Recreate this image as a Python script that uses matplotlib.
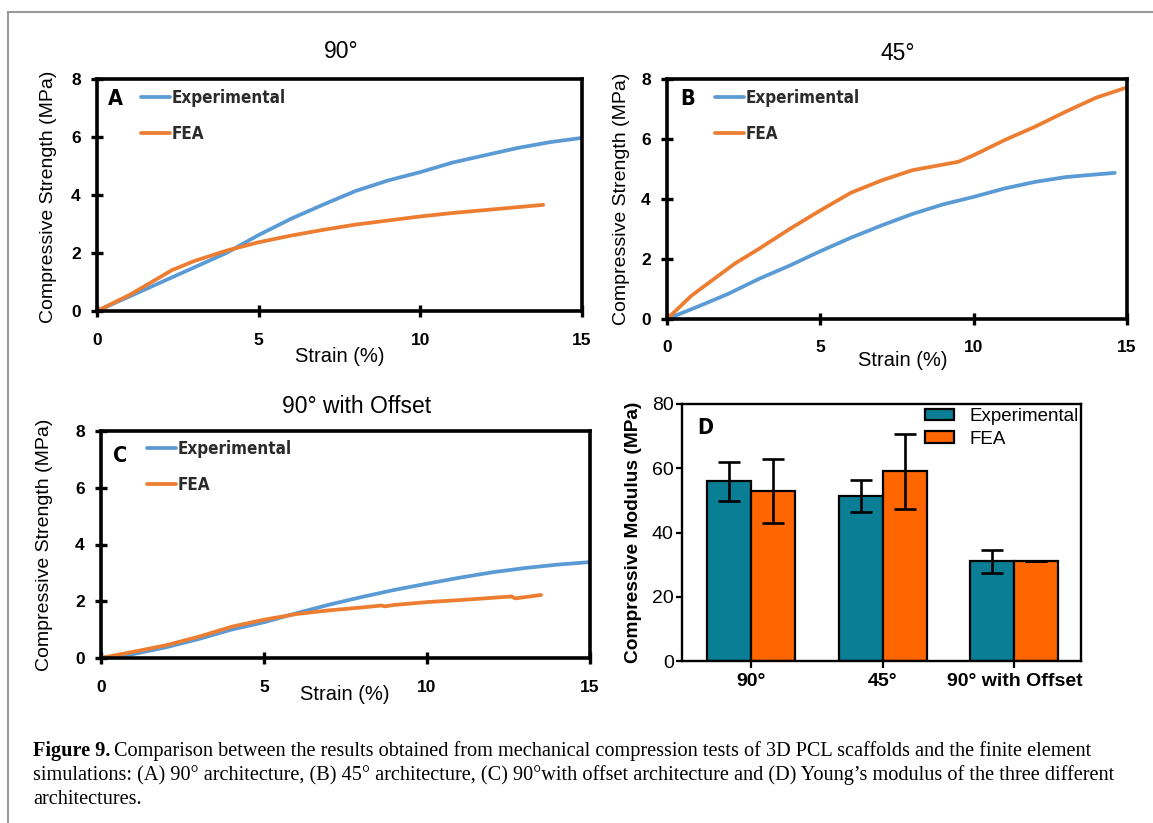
import os
import matplotlib
matplotlib.use('Agg')
import matplotlib.pyplot as plt
from matplotlib.lines import Line2D
from matplotlib import font_manager as fm
import numpy as np

W, H = 1153, 823

# ---------------- data ----------------
strain_ticks = [0, 5, 10, 15]
strength_ticks = [0, 2, 4, 6, 8]

a_exp_x = [0, 1, 2, 3, 4, 5, 6, 7, 8, 9, 10, 11, 12, 13, 14, 15]
a_exp_y = [0, 0.5, 1.0, 1.5, 2.0, 2.62, 3.18, 3.67, 4.14, 4.5, 4.79, 5.12, 5.37, 5.62, 5.82, 5.97]
a_fea_x = [0, 1, 2, 2.3, 3, 4, 5, 6, 7, 8, 9, 10, 11, 12, 13, 13.8]
a_fea_y = [0, 0.55, 1.2, 1.4, 1.72, 2.08, 2.37, 2.6, 2.8, 2.98, 3.12, 3.26, 3.38, 3.48, 3.58, 3.66]

b_exp_x = [0, 1, 2, 3, 4, 5, 6, 7, 8, 9, 10, 11, 12, 13, 14, 14.6]
b_exp_y = [0, 0.41, 0.84, 1.34, 1.78, 2.26, 2.71, 3.12, 3.5, 3.82, 4.07, 4.35, 4.57, 4.73, 4.82, 4.87]
b_fea_x = [0, 0.8, 2.2, 3, 4, 5, 6, 7, 8, 9.5, 10, 11, 12, 13, 14, 15]
b_fea_y = [0, 0.78, 1.84, 2.34, 3.0, 3.62, 4.21, 4.62, 4.96, 5.24, 5.46, 5.96, 6.41, 6.91, 7.38, 7.72]

c_exp_x = [0, 1, 2, 3, 4, 5, 6, 7, 8, 9, 10, 11, 12, 13, 14, 15]
c_exp_y = [0, 0.14, 0.38, 0.67, 1.0, 1.26, 1.58, 1.88, 2.15, 2.4, 2.62, 2.83, 3.02, 3.17, 3.29, 3.38]
c_fea_x = [0, 1, 2, 3, 4, 5, 6, 7, 8, 8.6, 8.7, 9, 10, 11, 12, 12.6, 12.7, 13.5]
c_fea_y = [0, 0.22, 0.45, 0.75, 1.1, 1.35, 1.55, 1.68, 1.78, 1.85, 1.82, 1.87, 1.97, 2.04, 2.12, 2.17, 2.1, 2.22]

bar_categories = ['90°', '45°', '90° with Offset']
bar_exp = [55.9, 51.3, 31.0]
bar_exp_err = [6.1, 5.0, 3.5]
bar_fea = [53.0, 59.0, 31.0]
bar_fea_err = [9.9, 11.7, 0.0]
modulus_ticks = [0, 20, 40, 60, 80]

caption_bold = 'Figure 9.'
caption_lines = [
    'Comparison between the results obtained from mechanical compression tests of 3D PCL scaffolds and the finite element',
    'simulations: (A) 90° architecture, (B) 45° architecture, (C) 90°with offset architecture and (D) Young\u2019s modulus of the three different',
    'architectures.',
]

# ---------------- style ----------------
BLUE = '#5B9BD5'
ORANGE = '#ED7D31'
TEAL = '#0A7E95'
ORANGE2 = '#FF6600'
sans = ['Liberation Sans', 'DejaVu Sans']
serif = ['Liberation Serif', 'DejaVu Serif']


def pick_narrow_bold():
    wanted = ['liberationsansnarrow-bold.ttf', 'dejavusanscondensed-bold.ttf',
              'notosans-condensedbold.ttf', 'opensans-condensedbold.ttf',
              'robotocondensed-bold.ttf']
    files = {os.path.basename(f.fname).lower(): f.fname for f in fm.fontManager.ttflist}
    for w in wanted:
        if w in files:
            return fm.FontProperties(fname=files[w]), True
    return fm.FontProperties(family=sans, weight='bold'), False


NARROW, IS_NARROW = pick_narrow_bold()
BOLD_SANS = fm.FontProperties(family=sans, weight='bold')

fig = plt.figure(figsize=(W / 100, H / 100), dpi=100)
renderer = fig.canvas.get_renderer()


def text_width(s, fp_, size):
    p = fp_.copy()
    p.set_size(size)
    t = fig.text(0, 0, s, fontproperties=p)
    w = t.get_window_extent(renderer).width
    t.remove()
    return w


if IS_NARROW:
    LEG_SIZE = min(15.0, 12.0 * 114.0 / text_width('Experimental', NARROW, 12.0))
else:
    LEG_SIZE = 13.0
TICK_SIZE = 12.5
LETTER_SIZE = 15.5


def fp(base, size):
    p = base.copy()
    p.set_size(size)
    return p


def rect(l, t, r, b):
    return [l / W, 1 - b / H, (r - l) / W, (b - t) / H]


def axc(box, px, py):
    l, t, r, b = box
    return (px - l) / (r - l), (b - py) / (b - t)


LEG_PX = LEG_SIZE * 100 / 72.0


def line_panel(box, ex, ey, fx, fy, title, title_px, letter, letter_px,
               leg_px, ylab_px, xlab_px, xpad):
    ax = fig.add_axes(rect(*box))
    ax.plot(ex, ey, color=BLUE, lw=2.7, solid_capstyle='round', label='Experimental')
    ax.plot(fx, fy, color=ORANGE, lw=2.7, solid_capstyle='round', label='FEA')
    ax.set_xlim(0, 15)
    ax.set_ylim(0, 8)
    ax.set_xticks(strain_ticks)
    ax.set_yticks(strength_ticks)
    for s in ax.spines.values():
        s.set_linewidth(2.6)
    ax.tick_params(direction='inout', length=8, width=2.4)
    ax.tick_params(axis='x', pad=xpad)
    ax.tick_params(axis='y', pad=7.7)
    for lab in ax.get_xticklabels() + ax.get_yticklabels():
        lab.set_fontproperties(fp(BOLD_SANS, TICK_SIZE))
    tx, ty = axc(box, *title_px)
    ax.set_title(title, y=ty, pad=0, va='center', fontsize=16.5, family=sans)
    ax.title.set_x(tx)
    ax.set_xlabel('Strain (%)', fontsize=14.5, family=sans)
    ax.xaxis.set_label_coords(*axc(box, *xlab_px))
    ax.xaxis.label.set_va('center')
    ax.set_ylabel('Compressive Strength (MPa)', fontsize=14, family=sans)
    ax.yaxis.set_label_coords(*axc(box, *ylab_px))
    ax.yaxis.label.set_va('center')
    lx, ly = axc(box, *letter_px)
    ax.text(lx, ly, letter, transform=ax.transAxes, fontproperties=fp(NARROW, LETTER_SIZE),
            ha='center', va='center')
    lpx, row1 = leg_px
    leg = ax.legend(loc='upper left', bbox_to_anchor=axc(box, lpx, row1 - 0.5 * LEG_PX),
                    frameon=False, borderpad=0, borderaxespad=0,
                    handlelength=29 / LEG_PX, handletextpad=2 / LEG_PX,
                    labelspacing=(35 - 0.95 * LEG_PX) / LEG_PX, prop=fp(NARROW, LEG_SIZE))
    for t in leg.get_texts():
        t.set_color('#2b2b2b')
    return ax


boxA = (97, 79, 582, 311)
line_panel(boxA, a_exp_x, a_exp_y, a_fea_x, a_fea_y, '90°', (341, 51), 'A', (115, 99),
           (141, 97), (49, 197), (340, 357), 11.5)

boxB = (667, 79, 1127, 319)
line_panel(boxB, b_exp_x, b_exp_y, b_fea_x, b_fea_y, '45°', (898, 54), 'B', (688, 99),
           (715, 97), (621, 199), (903, 360), 11.3)

boxC = (101, 431, 590, 658)
line_panel(boxC, c_exp_x, c_exp_y, c_fea_x, c_fea_y, '90° with Offset', (357, 406), 'C', (120, 456),
           (147, 448), (45, 545), (345, 694), 12.2)

# ---------------- panel D ----------------
boxD = (682, 404, 1081, 661)
axd = fig.add_axes(rect(*boxD))
xpos = np.arange(len(bar_categories))
bw = 0.334
ekw = dict(elinewidth=1.9, capthick=1.9, ecolor='black')
axd.bar(xpos - bw / 2, bar_exp, bw, yerr=bar_exp_err, color=TEAL, edgecolor='black',
        linewidth=1.6, capsize=8, error_kw=ekw, label='Experimental')
axd.bar(xpos + bw / 2, bar_fea, bw, yerr=bar_fea_err, color=ORANGE2, edgecolor='black',
        linewidth=1.6, capsize=8, error_kw=ekw, label='FEA')
axd.set_xlim(-0.524, 2.506)
axd.set_ylim(0, 80)
axd.set_yticks(modulus_ticks)
axd.set_xticks(xpos)
axd.set_xticklabels(bar_categories)
for s in axd.spines.values():
    s.set_linewidth(1.7)
axd.tick_params(direction='out', width=1.6, labelsize=14)
axd.tick_params(axis='y', length=4.5, pad=1.5)
axd.tick_params(axis='x', length=5, pad=4)
for lab in axd.get_yticklabels():
    lab.set_fontfamily(sans)
for lab in axd.get_xticklabels():
    lab.set_fontfamily(sans)
    lab.set_fontweight('bold')
axd.set_ylabel('Compressive Modulus (MPa)', fontsize=13.8, fontweight='bold', family=sans)
axd.yaxis.set_label_coords(*axc(boxD, 633, 532))
axd.yaxis.label.set_va('center')
dx, dy = axc(boxD, 705, 428)
axd.text(dx, dy, 'D', transform=axd.transAxes, fontproperties=fp(NARROW, LETTER_SIZE),
         ha='center', va='center')
axd.legend(loc='upper left', bbox_to_anchor=axc(boxD, 925, 408), frameon=False,
           borderpad=0, borderaxespad=0, handlelength=1.55, handleheight=0.55,
           handletextpad=0.8, labelspacing=0.3, prop=dict(family=sans, size=13.5))

# ---------------- frame ----------------
fig.add_artist(Line2D([8 / W, 1], [1 - 12 / H, 1 - 12 / H], transform=fig.transFigure,
                      color='#999999', lw=1.5))
fig.add_artist(Line2D([8 / W, 8 / W], [1 - 12 / H, 0], transform=fig.transFigure,
                      color='#999999', lw=1.5))

# ---------------- caption ----------------
base = 13.0
serif_fp = fm.FontProperties(family=serif)
serif_b = fm.FontProperties(family=serif, weight='bold')
w1 = text_width(caption_bold, serif_b, base) + 4 + text_width(caption_lines[0], serif_fp, base)
w2 = text_width(caption_lines[1], serif_fp, base)
cs = base * ((1070 - 33) + (1125 - 33)) / (w1 + w2)
ys = [751, 775, 799]
tb = fig.text(33 / W, 1 - ys[0] / H, caption_bold, fontsize=cs, fontweight='bold',
              family=serif, va='center')
bb = tb.get_window_extent(renderer)
fig.text((bb.x1 + 4) / W, 1 - ys[0] / H, caption_lines[0], fontsize=cs, family=serif, va='center')
fig.text(33 / W, 1 - ys[1] / H, caption_lines[1], fontsize=cs, family=serif, va='center')
fig.text(33 / W, 1 - ys[2] / H, caption_lines[2], fontsize=cs, family=serif, va='center')

fig.savefig('out.png', dpi=100)
